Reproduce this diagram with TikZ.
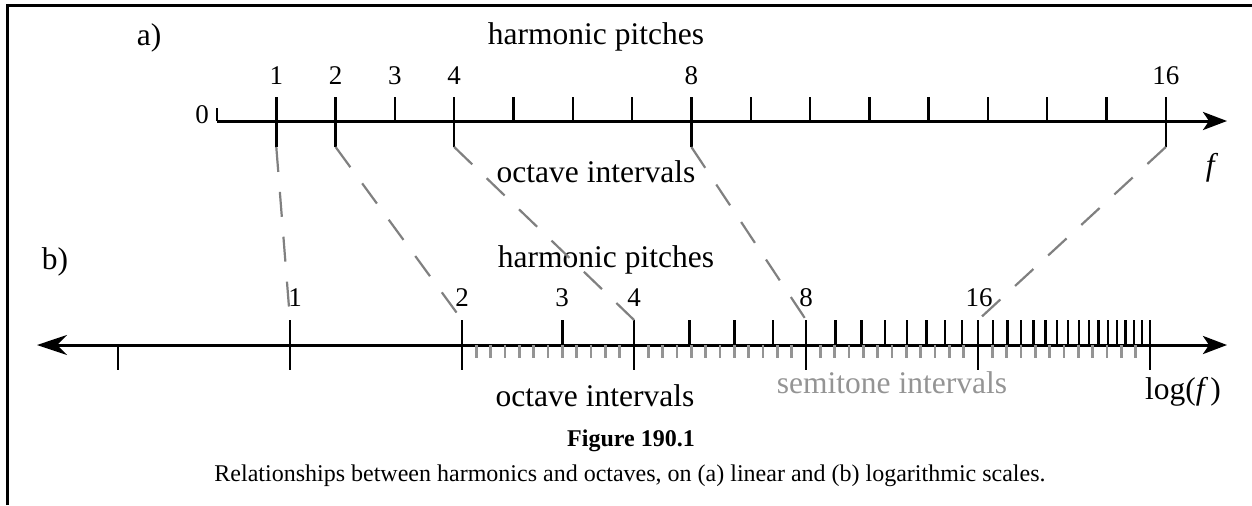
\documentclass[tikz,border=0pt]{standalone}
\usepackage{fontspec}
\setmainfont{Liberation Serif}
\usepackage{tikz}
\usetikzlibrary{arrows.meta}
\definecolor{linkgray}{gray}{0.5}
\definecolor{semigray}{gray}{0.58}
\tikzstyle{axis} = [line width=1.5pt]
\tikzstyle{tickmark} = [line width=1.2pt]
\tikzstyle{semitick} = [line width=1.25pt, semigray]
\tikzstyle{link} = [line width=1.1pt, linkgray, dash pattern=on 12.5pt off 10pt]
\tikzstyle{axislabel} = [font=\fontsize{15.75}{18}\selectfont, inner sep=0pt]
\tikzstyle{ticknum} = [font=\fontsize{13.5}{16}\selectfont, inner sep=0pt]
\tikzstyle{captext} = [font=\fontsize{12}{14}\selectfont, inner sep=0pt]

\begin{document}
\begin{tikzpicture}[x=0.5pt, y=-0.5pt]
\useasboundingbox (0,0) rectangle (1252,505);

% frame
\draw[axis] (7,505) -- (7,5) -- (1252,5);

% a) linear scale
\draw[axis, -{Stealth[length=12pt,width=9pt,inset=3pt]}] (217,121) -- (1227,121);
\draw[tickmark] (217,108) -- (217,121);
\foreach \n in {1,...,16}
  \draw[tickmark] ({217+59.3*\n},97) -- ({217+59.3*\n},121);
\foreach \n in {1,2,4,8,16}
  \draw[tickmark] ({217+59.3*\n},121) -- ({217+59.3*\n},147) coordinate (ta\n);

\node[ticknum] (na0) at (202,115) {0};
\foreach \n in {1,2,3,4,8,16}
  \node[ticknum] (na\n) at ({217+59.3*\n},76) {\n};

\node[axislabel] (parta) at (149,38) {a)};
\node[axislabel] (harma) at (596,37) {harmonic pitches};
\node[axislabel] (octa) at (596,172) {octave intervals};
\node[axislabel] (fa) at (1212,168) {\textit{f}};

% b) logarithmic scale
\draw[axis, {Stealth[length=15pt,width=10pt,inset=5pt]}-{Stealth[length=12pt,width=9pt,inset=3pt]}] (37,345) -- (1227,345);
\foreach \k in {13,...,59}
  \draw[semitick] ({290+172*\k/12},345) -- ({290+172*\k/12},358);
\draw[tickmark] (118,345) -- (118,370);
\foreach \n in {3,5,6,7,9,10,...,15,17,18,...,31}
  \draw[tickmark] ({290+172*ln(\n)/ln(2)},320) -- ({290+172*ln(\n)/ln(2)},345);
\foreach \n in {1,2,4,8,16,32}
  \draw[tickmark] ({290+172*ln(\n)/ln(2)},320) coordinate (tb\n) -- ({290+172*ln(\n)/ln(2)},370);

\foreach \n/\xx in {1/295, 2/462, 3/562, 4/634, 8/806, 16/979}
  \node[ticknum] (nb\n) at (\xx,298) {\n};

\node[axislabel] (partb) at (55,262) {b)};
\node[axislabel] (harmb) at (606,260) {harmonic pitches};
\node[axislabel] (octb) at (595,396) {octave intervals};
\node[axislabel, text=semigray] (semib) at (892,383) {semitone intervals};
\node[axislabel] (logb) at (1183,392) {log(\textit{f}\kern1pt)};

% harmonics of a) onto b)
\foreach \n in {1,2,4,8,16}
  \draw[link] (ta\n) -- (tb\n);

% caption
\node[captext] (fignum) at (631,441) {\textbf{Figure 190.1}};
\node[captext] (figcap) at (630,476) {Relationships between harmonics and octaves, on (a) linear and (b) logarithmic scales.};

\end{tikzpicture}
\end{document}
